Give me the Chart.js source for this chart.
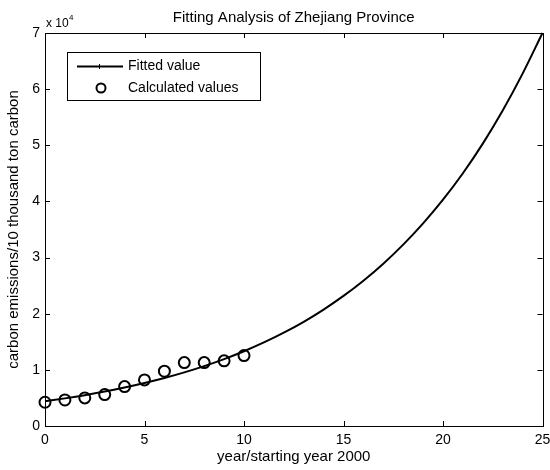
<!DOCTYPE html>
<html>
<head>
<meta charset="utf-8">
<script src="https://cdn.jsdelivr.net/npm/chart.js@4/dist/chart.umd.min.js"></script>
<style>
  html, body { margin: 0; padding: 0; background: #fff; }
  #grafico-ajuste { display: block; }
</style>
</head>
<body>
<canvas id="grafico-ajuste" width="550" height="470"></canvas>
<script>
// Dados
const anosAjuste = [0, 1, 2, 3, 4, 5, 6, 7, 8, 9, 10, 11, 12, 13, 14, 15, 16, 17, 18, 19, 20, 21, 22, 23, 24, 25];
const valoresAjuste = [4400, 4920, 5490, 6130, 6850, 7660, 8550, 9550, 10670, 11920, 13320, 14880, 16620,
    18560, 20740, 23170, 25880, 28910, 32300, 36080, 40300, 45020, 50290, 56180, 62760, 70000];
const anosCalculados = [0, 1, 2, 3, 4, 5, 6, 7, 8, 9, 10];
const valoresCalculados = [4230, 4640, 5000, 5590, 7020, 8210, 9760, 11300, 11300, 11600, 12550];
const ticksX = [0, 5, 10, 15, 20, 25];
const ticksY = [0, 10000, 20000, 30000, 40000, 50000, 60000, 70000];

const fonte = 'Arial, "Liberation Sans", sans-serif';

// Plugin para desenhar a caixa, ticks internos, titulo e legenda (estilo MATLAB)
const pluginCaixa = {
    id: 'caixa',
    afterDatasetsDraw(chart) {
        const ctx = chart.ctx;
        const area = chart.chartArea;
        const sx = chart.scales.x;
        const sy = chart.scales.y;
        ctx.save();
        ctx.strokeStyle = '#000';
        ctx.lineWidth = 1;
        ctx.strokeRect(Math.round(area.left) + 0.5, Math.round(area.top) + 0.5,
            Math.round(area.right - area.left), Math.round(area.bottom - area.top));
        ctx.beginPath();
        ticksX.forEach(v => {
            const px = Math.round(sx.getPixelForValue(v)) + 0.5;
            ctx.moveTo(px, area.bottom); ctx.lineTo(px, area.bottom - 5);
            ctx.moveTo(px, area.top); ctx.lineTo(px, area.top + 5);
        });
        ticksY.forEach(v => {
            const py = Math.round(sy.getPixelForValue(v)) + 0.5;
            ctx.moveTo(area.left, py); ctx.lineTo(area.left + 5, py);
            ctx.moveTo(area.right, py); ctx.lineTo(area.right - 5, py);
        });
        ctx.stroke();

        // titulo
        ctx.fillStyle = '#000';
        ctx.font = '15px ' + fonte;
        ctx.textAlign = 'center';
        ctx.textBaseline = 'alphabetic';
        ctx.fillText('Fitting Analysis of Zhejiang Province', (area.left + area.right) / 2, 22);

        // multiplicador do eixo y
        ctx.textAlign = 'left';
        ctx.font = '12px ' + fonte;
        ctx.fillText('x 10', area.left + 1, 27);
        ctx.font = '8px ' + fonte;
        ctx.fillText('4', area.left + 24, 20);

        // legenda
        const lx = 67, ly = 52, lw = 193, lh = 48;
        ctx.fillStyle = '#fff';
        ctx.fillRect(lx, ly, lw, lh);
        ctx.strokeRect(lx + 0.5, ly + 0.5, lw, lh);
        ctx.lineWidth = 2;
        ctx.beginPath();
        ctx.moveTo(77, 66.5); ctx.lineTo(123, 66.5);
        ctx.stroke();
        ctx.fillStyle = '#000';
        ctx.fillRect(99, 64, 1, 5);
        ctx.beginPath();
        ctx.arc(101, 88, 4.5, 0, Math.PI * 2);
        ctx.stroke();
        ctx.font = '14px ' + fonte;
        ctx.textBaseline = 'middle';
        ctx.fillText('Fitted value', 128, 66);
        ctx.fillText('Calculated values', 128, 88);
        ctx.restore();
    }
};

function montarPontos(xs, ys) {
    return xs.map((x, i) => ({ x: x, y: ys[i] }));
}

new Chart(document.getElementById('grafico-ajuste'), {
    type: 'scatter',
    data: {
        datasets: [{
            label: 'Fitted value',
            data: montarPontos(anosAjuste, valoresAjuste),
            showLine: true,
            borderColor: '#000',
            borderWidth: 2,
            pointRadius: 0,
            cubicInterpolationMode: 'monotone',
            clip: false
        }, {
            label: 'Calculated values',
            data: montarPontos(anosCalculados, valoresCalculados),
            showLine: false,
            borderColor: '#000',
            backgroundColor: 'rgba(0,0,0,0)',
            borderWidth: 2,
            pointRadius: 5.5,
            clip: false
        }]
    },
    options: {
        responsive: false,
        animation: false,
        layout: { padding: { top: 33, right: 5, left: 0, bottom: 0 } },
        plugins: { legend: { display: false }, tooltip: { enabled: false } },
        scales: {
            x: {
                type: 'linear',
                min: 0, max: 25,
                grid: { display: false, drawTicks: false },
                border: { display: false },
                afterBuildTicks: s => { s.ticks = ticksX.map(v => ({ value: v })); },
                ticks: { color: '#000', font: { size: 14, family: fonte }, padding: 6, maxRotation: 0, autoSkip: false },
                title: { display: true, text: 'year/starting year 2000', color: '#000', font: { size: 15, family: fonte }, padding: { top: 0, bottom: 4 } },
                afterFit: s => { s.height = 44; s.paddingLeft = 0; s.paddingRight = 0; }
            },
            y: {
                type: 'linear',
                min: 0, max: 70000,
                grid: { display: false, drawTicks: false },
                border: { display: false },
                afterBuildTicks: s => { s.ticks = ticksY.map(v => ({ value: v })); },
                ticks: { color: '#000', font: { size: 14, family: fonte }, padding: 5, callback: v => v / 10000 },
                title: { display: true, text: 'carbon emissions/10 thousand ton carbon', color: '#000', font: { size: 15, family: fonte }, padding: { top: 5, bottom: 0 } },
                afterFit: s => { s.width = 45; s.paddingTop = 0; s.paddingBottom = 0; }
            }
        }
    },
    plugins: [pluginCaixa]
});
</script>
</body>
</html>
